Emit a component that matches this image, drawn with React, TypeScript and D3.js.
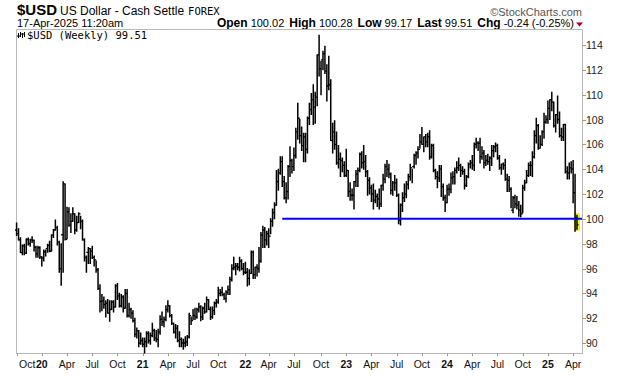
import React from "react";
import * as d3 from "d3";

// Weekly bars [high, low, close]; weeks run Mon-Fri, first week ends 2019-10-04
const bars2019: [number, number, number][] = [
  [99.67, 98.66, 98.81], [99.2, 98.3, 98.3], [98.48, 97.28, 97.28], [97.9, 97.1, 97.83], [97.95, 97.1, 97.24],
  [98.4, 97.2, 98.35], [98.45, 97.9, 98.0], [98.35, 97.8, 98.3], [98.55, 98.1, 98.27], [98.3, 97.4, 97.7],
  [97.8, 96.9, 97.18], [97.8, 96.9, 97.67], [97.75, 96.8, 96.93], [96.95, 96.2, 96.85],
];
const bars2020: [number, number, number][] = [
  [97.5, 96.6, 97.35], [97.5, 97.0, 97.6], [97.95, 97.3, 97.87], [98.2, 97.35, 97.39],
  [98.7, 97.4, 98.7], [99.15, 98.5, 99.1], [99.9, 99.1, 99.3], [99.4, 97.9, 98.13],
  [98.2, 95.7, 95.99], [98.0, 94.65, 98.72], [102.99, 95.7, 102.82], [102.8, 98.3, 98.35], [100.93, 98.4, 100.57],
  [100.9, 99.4, 99.5], [100.4, 98.9, 99.8], [100.9, 99.8, 100.4], [100.4, 98.8, 99.1],
  [100.2, 99.0, 99.7], [100.5, 99.7, 100.4], [100.2, 99.2, 99.8], [99.9, 98.3, 98.3],
  [98.4, 96.6, 96.9], [97.0, 95.7, 97.3], [97.7, 96.4, 97.6], [97.6, 96.4, 97.4], [97.8, 96.8, 96.9],
  [97.0, 96.2, 96.7], [96.6, 95.7, 95.9], [96.0, 94.3, 94.4], [94.7, 92.5, 93.35],
  [93.9, 92.6, 93.4], [93.7, 92.8, 93.1], [93.4, 92.1, 93.2], [93.5, 92.4, 92.4], [93.4, 91.75, 92.7],
  [93.4, 92.7, 93.3], [93.4, 92.5, 92.9], [94.7, 92.9, 94.6], [94.8, 93.5, 93.8],
  [94.0, 92.9, 93.0], [93.9, 92.9, 93.7], [93.8, 92.5, 92.8], [94.3, 92.8, 94.0],
  [94.3, 92.1, 92.2], [93.2, 92.1, 92.7], [92.8, 92.0, 92.4], [92.6, 91.7, 91.8], [92.0, 90.5, 90.7],
  [91.2, 90.4, 90.98], [91.0, 89.7, 90.0], [90.8, 89.9, 90.2], [90.4, 89.7, 89.9],
];
const bars2021: [number, number, number][] = [
  [90.4, 89.2, 90.1], [90.9, 89.7, 90.77], [90.9, 90.0, 90.2], [90.8, 89.9, 90.6],
  [91.6, 90.5, 91.0], [91.1, 90.2, 90.4], [91.0, 90.1, 90.3], [91.1, 89.7, 90.9],
  [92.2, 90.7, 91.9], [92.5, 91.4, 91.7], [92.1, 91.3, 91.9], [93.0, 91.8, 92.7], [93.4, 92.5, 93.0],
  [93.0, 92.1, 92.2], [92.3, 91.5, 91.6], [91.6, 90.8, 90.9], [91.5, 90.4, 91.2],
  [91.4, 90.1, 90.2], [90.9, 89.7, 90.3], [90.4, 89.7, 90.0], [90.3, 89.5, 90.0], [90.5, 89.7, 90.1],
  [90.6, 89.8, 90.5], [92.4, 90.4, 92.2], [92.1, 91.5, 91.8], [92.7, 91.9, 92.2],
  [92.8, 91.9, 92.1], [92.8, 92.0, 92.7], [93.2, 92.5, 92.9], [93.0, 91.8, 92.1],
  [92.9, 91.9, 92.8], [93.2, 92.4, 92.5], [93.7, 92.5, 93.5], [93.5, 92.7, 92.7], [92.9, 91.9, 92.1],
  [92.9, 92.0, 92.6], [93.3, 92.3, 93.2], [93.5, 92.9, 93.3], [94.5, 93.2, 94.0],
  [94.3, 93.8, 94.1], [94.5, 93.8, 93.9], [94.0, 93.5, 93.6], [94.2, 93.3, 94.1],
  [94.6, 93.9, 94.3], [95.3, 93.9, 95.1], [96.3, 95.0, 96.0], [96.9, 95.9, 96.1], [96.4, 95.5, 96.2],
  [96.4, 95.9, 96.1], [96.9, 95.8, 96.6], [96.7, 95.9, 96.0], [96.4, 95.5, 95.7],
];
const bars2022: [number, number, number][] = [
  [96.5, 95.6, 95.7], [96.0, 94.6, 95.2], [95.9, 94.7, 95.6], [97.4, 95.6, 97.3], [97.4, 95.2, 95.5],
  [96.1, 95.2, 96.1], [96.3, 95.4, 96.0], [97.7, 95.7, 96.6], [98.9, 96.5, 98.7],
  [99.4, 97.7, 99.1], [99.3, 97.7, 98.3], [99.0, 97.9, 98.8], [99.2, 97.7, 98.6],
  [100.0, 98.8, 99.8], [100.8, 99.4, 100.5], [101.3, 100.0, 101.1], [103.9, 101.1, 103.0],
  [104.0, 102.3, 103.7], [105.0, 103.6, 104.6], [105.0, 102.6, 103.0], [103.4, 101.6, 101.7], [102.9, 101.3, 102.2],
  [104.3, 101.6, 104.2], [105.8, 103.4, 104.7], [104.8, 103.7, 104.2], [105.7, 103.9, 105.1],
  [107.3, 104.9, 107.0], [109.3, 106.4, 108.1], [108.0, 106.1, 106.7], [107.4, 105.5, 105.9],
  [106.9, 104.6, 106.6], [106.9, 104.6, 105.6], [108.2, 105.3, 108.1], [109.3, 107.6, 108.8], [110.1, 108.4, 109.6],
  [110.8, 107.6, 109.0], [110.2, 107.7, 109.8], [113.2, 109.1, 113.2], [114.78, 111.5, 112.1],
  [112.7, 110.0, 112.8], [113.5, 112.0, 113.3], [113.9, 111.7, 111.9], [112.4, 109.5, 110.7], [113.1, 110.4, 110.8],
  [111.2, 106.3, 106.3], [107.7, 105.3, 107.0], [107.9, 105.6, 106.0], [107.0, 104.4, 104.5],
  [105.9, 104.1, 104.8], [105.3, 103.4, 104.7], [104.9, 103.8, 104.3], [104.6, 103.4, 103.5],
];
const bars2023: [number, number, number][] = [
  [105.6, 103.4, 103.9], [103.9, 101.8, 102.2], [102.9, 101.5, 101.9], [102.4, 101.5, 101.9], [103.0, 100.8, 103.0],
  [103.9, 102.6, 103.6], [104.1, 102.6, 103.9], [105.3, 103.8, 105.2], [105.4, 104.1, 104.5],
  [105.9, 104.0, 104.6], [105.1, 103.4, 103.8], [103.9, 101.9, 103.1], [103.3, 102.0, 102.5],
  [102.7, 101.4, 102.0], [102.8, 100.8, 101.5], [102.3, 101.3, 101.8], [102.0, 101.0, 101.6],
  [102.4, 100.8, 101.2], [102.7, 101.0, 102.7], [103.6, 102.3, 103.2], [104.4, 102.9, 104.2], [104.7, 103.4, 104.0],
  [104.4, 103.3, 103.6], [103.7, 102.0, 102.3], [103.0, 101.9, 102.9], [103.5, 102.3, 102.9],
  [103.2, 101.8, 101.9], [102.0, 99.6, 99.9], [101.2, 99.5, 101.1], [102.1, 100.6, 101.7], [102.8, 101.4, 102.0],
  [103.0, 101.7, 102.8], [103.6, 102.4, 103.4], [104.4, 103.1, 104.1], [104.0, 102.9, 104.2],
  [105.2, 104.1, 105.1], [105.4, 104.4, 105.3], [105.8, 104.9, 105.6], [106.8, 105.7, 106.2],
  [107.35, 106.0, 106.0], [106.6, 105.4, 106.6], [106.8, 105.8, 106.2], [106.9, 105.8, 106.6], [107.1, 104.8, 105.0],
  [106.0, 104.9, 105.9], [106.0, 103.8, 103.9], [104.0, 103.2, 103.4], [103.8, 102.5, 103.3],
  [104.3, 103.0, 104.0], [104.3, 101.8, 102.6], [102.8, 101.5, 101.7], [101.9, 100.6, 101.3],
];
const bars2024: [number, number, number][] = [
  [102.7, 101.3, 102.4], [102.8, 101.9, 102.4], [103.7, 102.1, 103.3], [103.8, 102.8, 103.4], [104.1, 102.8, 103.9],
  [104.6, 103.7, 104.1], [104.9, 103.9, 104.3], [104.4, 103.4, 103.9], [104.2, 103.6, 103.8],
  [104.0, 102.4, 102.7], [103.5, 102.6, 103.4], [104.5, 103.3, 104.4], [104.7, 104.1, 104.5],
  [105.1, 104.0, 104.3], [106.1, 103.9, 106.0], [106.5, 105.7, 106.1], [106.2, 105.5, 106.1], [106.5, 104.5, 105.0],
  [105.8, 104.8, 105.3], [105.5, 104.1, 104.5], [105.1, 104.3, 104.7], [105.2, 104.4, 104.6],
  [105.0, 103.9, 104.9], [105.9, 104.3, 105.5], [105.9, 105.0, 105.8], [106.1, 105.4, 105.9],
  [106.0, 104.8, 104.9], [105.1, 104.0, 104.1], [104.4, 103.6, 104.4], [104.5, 104.0, 104.3], [104.8, 103.1, 103.2],
  [103.6, 102.2, 103.1], [103.4, 102.2, 102.4], [102.5, 100.9, 100.7], [101.8, 100.5, 101.7],
  [101.9, 100.9, 101.2], [101.8, 100.8, 101.1], [101.4, 100.2, 100.7], [101.1, 100.16, 100.4], [102.7, 100.5, 102.5],
  [103.1, 102.3, 102.9], [103.9, 102.9, 103.5], [104.5, 103.4, 104.3], [104.6, 103.5, 104.3],
  [105.4, 103.4, 105.0], [107.1, 104.9, 106.7], [108.1, 106.1, 107.5], [107.6, 105.6, 105.7],
  [106.7, 105.7, 106.0], [107.1, 105.9, 107.0], [108.5, 106.5, 107.8], [108.3, 107.7, 108.0], [109.5, 107.7, 108.9],
];
const bars2025: [number, number, number][] = [
  [109.6, 108.0, 109.6], [110.2, 108.7, 109.4], [109.4, 107.4, 107.5], [108.4, 107.0, 108.4],
  [109.9, 107.7, 108.0], [108.6, 106.6, 106.7], [107.3, 106.3, 106.6], [107.6, 106.3, 107.6],
  [107.6, 103.7, 103.8], [104.2, 103.2, 103.7], [104.5, 103.2, 104.1], [104.6, 103.7, 104.0], [104.7, 101.3, 102.1],
  [103.6, 99.0, 100.1], [100.28, 99.17, 99.51],
];

const firstWeekEnd = new Date(Date.UTC(2019, 9, 4));
const firstOpen = 99.1;
const lastOpen = 100.02;
const yTickValues = [90, 92, 94, 96, 98, 100, 102, 104, 106, 108, 110, 112, 114];
const quarterNames: Record<number, string> = { 0: "", 3: "Apr", 6: "Jul", 9: "Oct" };
const supportLevel = 100;
const supportStart = new Date(Date.UTC(2022, 4, 20));

const headerSymbol = "$USD";
const headerName = "US Dollar - Cash Settle";
const headerExchange = "FOREX";
const headerDate = "17-Apr-2025 11:20am";
const quote: [string, string][] = [
  ["Open", "100.02"], ["High", "100.28"], ["Low", "99.17"], ["Last", "99.51"], ["Chg", "-0.24 (-0.25%)"],
];
const legendText = "$USD (Weekly) 99.51";

const allBars = [...bars2019, ...bars2020, ...bars2021, ...bars2022, ...bars2023, ...bars2024, ...bars2025];

export default function App() {
  const W = 620, H = 376;
  const left = 16, right = 582, top = 29, bottom = 353;
  const n = allBars.length;
  const dates = allBars.map((_, i) => d3.utcDay.offset(firstWeekEnd, 7 * i));
  const x = d3.scaleLinear().domain([0, n - 1]).range([16.6, 577]);
  const y = d3.scaleLinear().domain([90, 114]).range([343, 45]);

  const data = allBars.map(([h, l, c], i) => ({
    i, h, l, c,
    o: i === 0 ? firstOpen : i === n - 1 ? lastOpen : allBars[i - 1][2],
    d: dates[i],
  }));

  // x labels: first bar of Jan/Apr/Jul/Oct
  const xLabels: { i: number; text: string; bold: boolean }[] = [];
  data.forEach((b, i) => {
    const m = b.d.getUTCMonth();
    const pm = i === 0 ? -1 : dates[i - 1].getUTCMonth();
    if (m !== pm && m in quarterNames) {
      if (m === 0) xLabels.push({ i, text: String(b.d.getUTCFullYear()).slice(2), bold: true });
      else xLabels.push({ i, text: quarterNames[m], bold: false });
    }
  });

  const supIdx = d3.bisector((d: Date) => d.getTime()).left(dates, supportStart.getTime());
  const last = data[n - 1];
  const px = (v: number) => Math.round(v) + 0.5;

  let barPath = "";
  let tickPath = "";
  data.forEach((b) => {
    const xx = x(b.i);
    barPath += `M${xx},${y(b.h) - 0.5}V${y(b.l) + 0.5}`;
    tickPath += `M${xx - 1.6},${y(b.o)}H${xx}M${xx},${y(b.c)}H${xx + 1.6}`;
  });

  const sans = "Liberation Sans, Arial, Helvetica, sans-serif";
  const mono = "DejaVu Sans Mono, monospace";

  return (
    <svg width={W} height={H} style={{ position: "absolute", left: 0, top: 0, background: "#fff" }}>
      <rect x={0} y={0} width={W} height={H} fill="#fff" />
      {/* header */}
      <text x={17} y={15} fontFamily={sans} fill="#000">
        <tspan fontWeight="bold" fontSize={15}>{headerSymbol}</tspan>
        <tspan fontSize={12} dx={3}>{headerName}</tspan>
        <tspan fontFamily={mono} fontSize={10.5} dx={4}>{headerExchange}</tspan>
      </text>
      <text x={17} y={27} fontFamily={sans} fontSize={11} fill="#000">{headerDate}</text>
      <text x={582} y={16} textAnchor="end" fontFamily={sans} fontSize={11} fill="#555">©StockCharts.com</text>
      <text x={574} y={27} textAnchor="end" fontFamily={sans} fontSize={11} fill="#000">
        {quote.map(([k, v], j) => (
          <React.Fragment key={k}>
            <tspan fontWeight="bold" fontSize={12} dx={j === 0 ? 0 : 5}>{k}</tspan>
            <tspan dx={3}>{v}</tspan>
          </React.Fragment>
        ))}
      </text>
      <path d="M576,22.5H583L579.5,26.5Z" fill="#a0002a" />

      {/* frame */}
      <path d={`M${left + 0.5},${bottom}V${top + 0.5}H${right + 0.5}V${bottom}`} fill="none" stroke="#b8b8b8" />
      <line x1={left} x2={right + 1} y1={bottom + 0.5} y2={bottom + 0.5} stroke="#b8b8b8" />

      {/* legend */}
      <g stroke="#000" strokeWidth={1} fill="none">
        <path d="M18.5,33V38M20.5,32V37M22.5,33V38M24.5,32V37M17,36H20M21,34H24" />
      </g>
      <text x={27} y={39} fontFamily={mono} fontSize={10.5} fill="#000">{legendText}</text>

      {/* y axis */}
      {yTickValues.map((v) => (
        <g key={v}>
          <line x1={right + 0.5} x2={right + 4} y1={Math.round(y(v)) + 0.5} y2={Math.round(y(v)) + 0.5} stroke="#999" />
          <text x={586} y={y(v) + 4} fontFamily={sans} fontSize={10.5} fill="#222">{v}</text>
        </g>
      ))}

      {/* x axis */}
      {xLabels.map((l) => {
        const xx = x(l.i);
        const first = xx - 8 < left;
        return (
          <g key={l.i}>
            <line x1={px(xx)} x2={px(xx)} y1={bottom} y2={bottom + 3} stroke="#999" />
            <text
              x={first ? left + 3 : xx}
              y={368}
              textAnchor={first ? "start" : "middle"}
              fontFamily={sans}
              fontSize={10.5}
              fontWeight={l.bold ? "bold" : "normal"}
              fill="#111"
            >
              {l.text}
            </text>
          </g>
        );
      })}

      {/* highlight of last bar */}
      <rect x={x(last.i) - 2.5} y={y(last.h) - 1.5} width={5} height={y(last.l) - y(last.h) + 3} fill="#ffff00" stroke="#d8c800" strokeWidth={0.5} />

      {/* bars */}
      <path d={barPath} fill="none" stroke="#000" strokeWidth={1.5} />
      <path d={tickPath} fill="none" stroke="#000" strokeWidth={1.3} />

      {/* support line */}
      <line x1={x(supIdx)} x2={right} y1={y(supportLevel)} y2={y(supportLevel)} stroke="#0000ff" strokeWidth={2} />
    </svg>
  );
}
